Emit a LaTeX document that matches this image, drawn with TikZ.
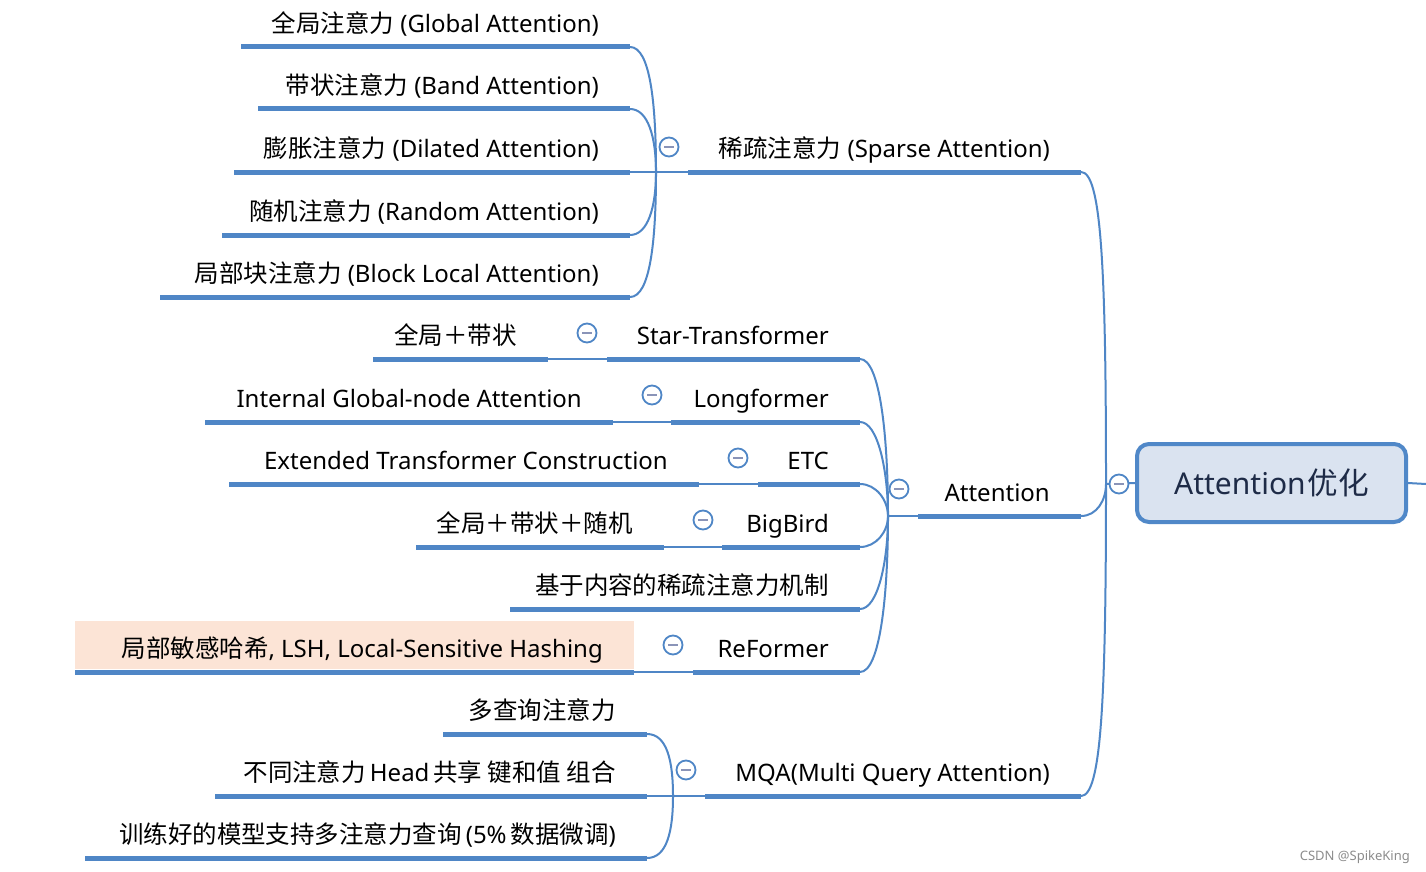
\documentclass[tikz,border=0pt]{standalone}
\usepackage{fontspec}
\setmainfont{Noto Sans}
\newfontfamily\cjk[Scale=1.02]{Noto Sans CJK SC}
\usetikzlibrary{calc}
\definecolor{mblue}{HTML}{4F86C6}
\definecolor{rootfill}{HTML}{DAE3F0}
\definecolor{rootline}{HTML}{5088C8}
\definecolor{rootText}{HTML}{1E2B47}
\definecolor{lshfill}{HTML}{FCE4D6}
\definecolor{minusc}{HTML}{8A94B8}
\newcommand\topicline[5]{%
  \coordinate (#1L) at (#2,#4);
  \coordinate (#1R) at (#3,#4);
  \draw[uline] (#1L) -- (#1R);
  \node[txt, anchor=base east] (#1) at ($(#1R)+(-31,-14.5)$) {#5};
}
\begin{document}
\begin{tikzpicture}[x=1pt,y=-1pt,
  uline/.style={draw=mblue, line width=5pt},
  conn/.style={draw=mblue, line width=2pt},
  txt/.style={font=\fontsize{24}{29}\selectfont, inner sep=0pt, text=black},
  collapse/.style={circle, draw=mblue, fill=white, line width=1.8pt, minimum size=19pt, inner sep=0pt,
    path picture={\draw[minusc, line width=2pt] ($(path picture bounding box.center)+(-5,0)$) -- ($(path picture bounding box.center)+(5,0)$);}},
  rootbox/.style={draw=rootline, fill=rootfill, line width=4pt, rounded corners=12pt, minimum width=269pt, minimum height=78pt, inner sep=0pt, text=rootText, font=\fontsize{30}{36}\selectfont}
]
\useasboundingbox[fill=white] (0,0) rectangle (1426,872);

% junctions
\coordinate (spJ) at (656,172);
\coordinate (atJ) at (888,516);
\coordinate (mqJ) at (673,796);
\coordinate (rJ) at (1106,484);
\coordinate (rEnd) at (1426,484);

% LSH highlight box
\node[fill=lshfill, minimum width=559pt, minimum height=48pt, anchor=north west, inner sep=0pt] (lshbox) at (75,621) {};

% level 1
\topicline{sp}{688}{1081}{172}{{\cjk 稀疏注意力} (Sparse Attention)}
\topicline{at}{918}{1081}{516}{Attention}
\topicline{mq}{705}{1081}{796}{MQA(Multi Query Attention)}

% sparse children
\topicline{g}{241}{630}{47}{{\cjk 全局注意力} (Global Attention)}
\topicline{b}{258}{630}{109}{{\cjk 带状注意力} (Band Attention)}
\topicline{d}{234}{630}{172}{{\cjk 膨胀注意力} (Dilated Attention)}
\topicline{r}{222}{630}{235}{{\cjk 随机注意力} (Random Attention)}
\topicline{bl}{160}{630}{297}{{\cjk 局部块注意力} (Block Local Attention)}

% attention children
\topicline{st}{607}{860}{359}{Star-Transformer}
\topicline{lf}{671}{860}{422}{Longformer}
\topicline{etc}{758}{860}{484}{ETC}
\topicline{bb}{722}{860}{547}{BigBird}
\topicline{cb}{510}{860}{609}{\cjk 基于内容的稀疏注意力机制}
\topicline{rf}{693}{860}{672}{ReFormer}

% level 3
\topicline{stc}{373}{548}{359}{\cjk 全局＋带状}
\topicline{lfc}{205}{613}{422}{Internal Global-node Attention}
\topicline{etcc}{229}{699}{484}{Extended Transformer Construction}
\topicline{bbc}{416}{664}{547}{\cjk 全局＋带状＋随机}
\topicline{rfc}{75}{634}{672}{{\cjk 局部敏感哈希}, LSH, Local-Sensitive Hashing}

% MQA children
\topicline{ma}{443}{647}{734}{\cjk 多查询注意力}
\topicline{mb}{215}{647}{796}{{\cjk 不同注意力}\,Head\,{\cjk 共享 键和值 组合}}
\topicline{mc}{85}{647}{858}{{\cjk 训练好的模型支持多注意力查询}\,(5\%\,{\cjk 数据微调})}

% connectors: sparse
\draw[conn] (gR) .. controls ($(gR)+(20,0)$) and ($(spJ)+(0,-70)$) .. (spJ);
\draw[conn] (bR) .. controls ($(bR)+(18,0)$) and ($(spJ)+(0,-35)$) .. (spJ);
\draw[conn] (dR) -- (spL);
\draw[conn] (rR) .. controls ($(rR)+(18,0)$) and ($(spJ)+(0,35)$) .. (spJ);
\draw[conn] (blR) .. controls ($(blR)+(20,0)$) and ($(spJ)+(0,70)$) .. (spJ);

% connectors: attention
\draw[conn] (stR) .. controls ($(stR)+(20,0)$) and ($(atJ)+(0,-80)$) .. (atJ);
\draw[conn] (lfR) .. controls ($(lfR)+(18,0)$) and ($(atJ)+(0,-45)$) .. (atJ);
\draw[conn] (etcR) .. controls ($(etcR)+(16,0)$) and ($(atJ)+(0,-16)$) .. (atJ);
\draw[conn] (bbR) .. controls ($(bbR)+(16,0)$) and ($(atJ)+(0,16)$) .. (atJ);
\draw[conn] (cbR) .. controls ($(cbR)+(18,0)$) and ($(atJ)+(0,45)$) .. (atJ);
\draw[conn] (rfR) .. controls ($(rfR)+(20,0)$) and ($(atJ)+(0,80)$) .. (atJ);
\draw[conn] (atJ) -- (atL);

% level-3 links
\draw[conn] (stcR) -- (stL);
\draw[conn] (lfcR) -- (lfL);
\draw[conn] (etccR) -- (etcL);
\draw[conn] (bbcR) -- (bbL);
\draw[conn] (rfcR) -- (rfL);

% connectors: MQA
\draw[conn] (maR) .. controls ($(maR)+(20,0)$) and ($(mqJ)+(0,-35)$) .. (mqJ);
\draw[conn] (mbR) -- (mqL);
\draw[conn] (mcR) .. controls ($(mcR)+(20,0)$) and ($(mqJ)+(0,35)$) .. (mqJ);

% root connectors
\draw[conn] (spR) .. controls ($(spR)+(20,0)$) and ($(rJ)+(0,-220)$) .. (rJ);
\draw[conn] (atR) .. controls ($(atR)+(16,0)$) and ($(rJ)+(0,16)$) .. (rJ);
\draw[conn] (mqR) .. controls ($(mqR)+(20,0)$) and ($(rJ)+(0,220)$) .. (rJ);

% root
\node[rootbox] (root) at (1271.5,483) {Attention\kern2pt{\cjk 优化}};
\draw[conn] (rJ) -- (root.west);
\draw[conn] (root.east) -- (rEnd);

% collapse markers
\node[collapse] (c0) at (1119,484) {};
\node[collapse] (c1) at (669,147) {};
\node[collapse] (c2) at (899,489) {};
\node[collapse] (c3) at (686,770) {};
\node[collapse] (c4) at (587,333) {};
\node[collapse] (c5) at (652,395) {};
\node[collapse] (c6) at (738,458) {};
\node[collapse] (c7) at (703,520) {};
\node[collapse] (c8) at (673,645) {};

% watermark
\node[font=\fontsize{13}{15}\selectfont, text=black!45, anchor=base east, inner sep=0pt] (wm) at (1410,860) {CSDN @SpikeKing};
\end{tikzpicture}
\end{document}
